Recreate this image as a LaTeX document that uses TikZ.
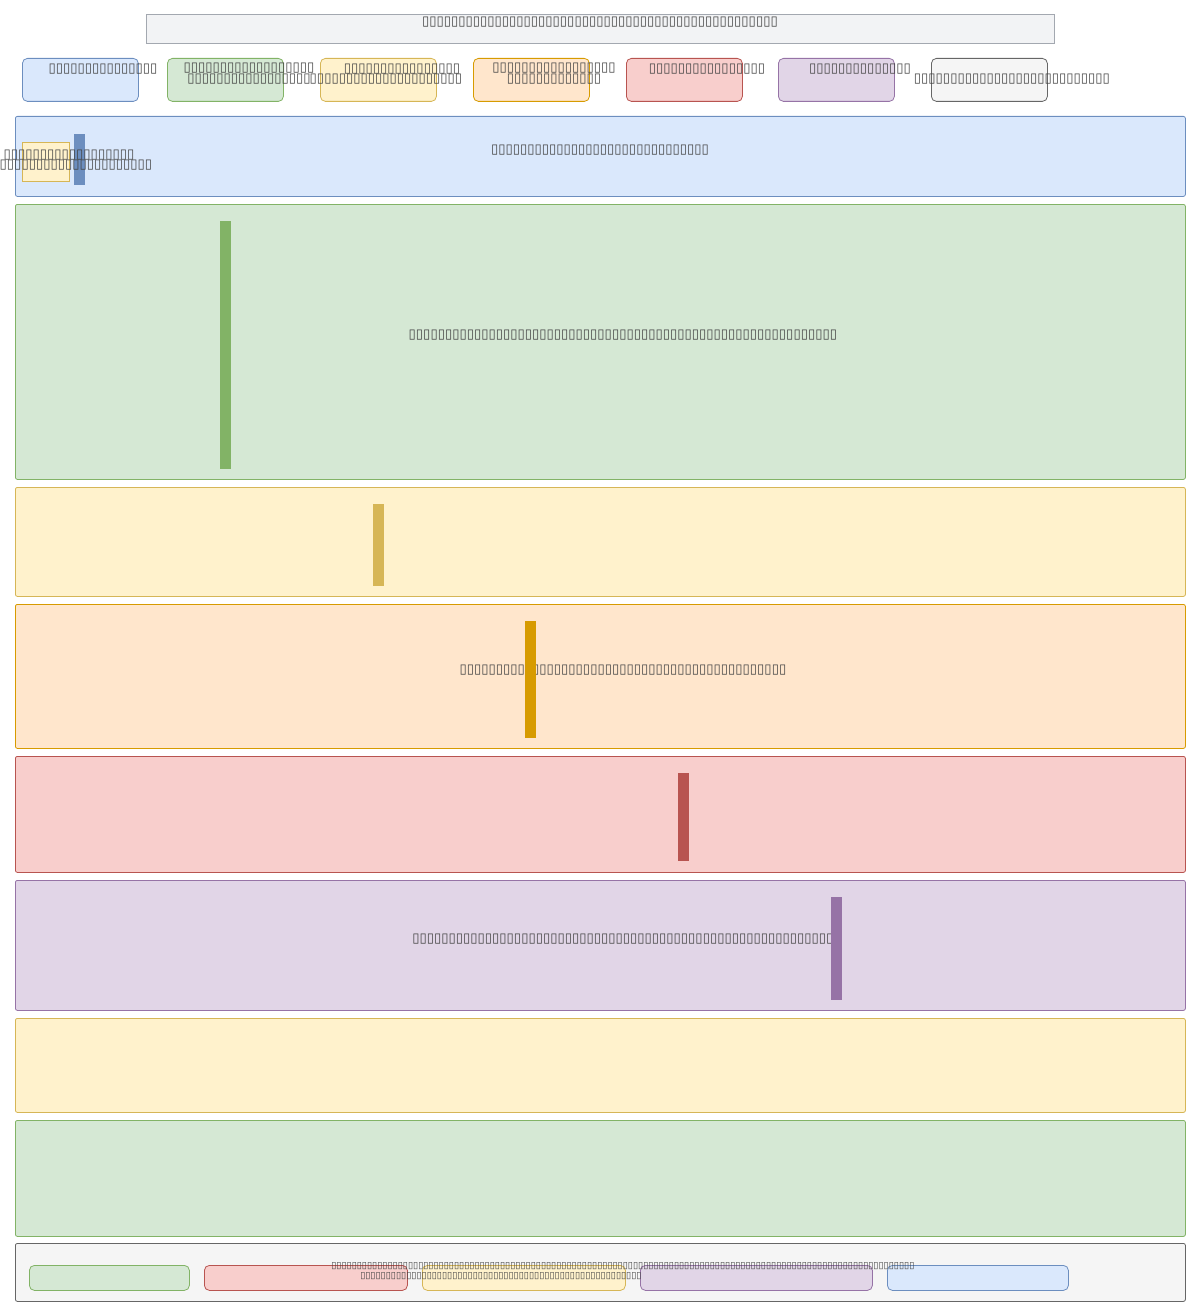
\documentclass[tikz,border=0pt]{standalone}
\usepackage{fontspec}
\usepackage{tikz}
\usetikzlibrary{positioning}
\newfontfamily\tofufont{DejaVu Sans}
\definecolor{bluef}{HTML}{DAE8FC}\definecolor{bluel}{HTML}{6C8EBF}
\definecolor{greenf}{HTML}{D5E8D4}\definecolor{greenl}{HTML}{82B366}
\definecolor{yellowf}{HTML}{FFF2CC}\definecolor{yellowl}{HTML}{D6B656}
\definecolor{orangef}{HTML}{FFE6CC}\definecolor{orangel}{HTML}{D79B00}
\definecolor{redf}{HTML}{F8CECC}\definecolor{redl}{HTML}{B85450}
\definecolor{purplef}{HTML}{E1D5E7}\definecolor{purplel}{HTML}{9673A6}
\definecolor{grayf}{HTML}{F5F5F5}\definecolor{grayl}{HTML}{666666}
\definecolor{titlef}{HTML}{F2F3F5}\definecolor{titlel}{HTML}{A3A8B0}
\definecolor{txtgray}{HTML}{444444}
\newcommand\tofu[1]{\foreach\k in {1,...,#1}{▯}}

\begin{document}
\begin{tikzpicture}[x=1pt,y=-1pt,
	lane/.style={draw, rounded corners=2pt, line width=.8pt, inner sep=0pt, anchor=north west, minimum width=1170pt},
	key/.style={draw, rounded corners=5pt, line width=.8pt, inner sep=0pt, anchor=north west, minimum width=116pt, minimum height=43pt},
	bar/.style={inner sep=0pt, anchor=north west, minimum width=11pt},
	txt/.style={font=\tofufont\fontsize{13.2}{10}\selectfont, text=txtgray, inner sep=0pt, align=center},
	small/.style={font=\tofufont\fontsize{9.3}{10}\selectfont, text=txtgray, inner sep=0pt, align=center}]
	\useasboundingbox (0,0) rectangle (1200,1316);
	% title
	\node[draw=titlel, fill=titlef, line width=.8pt, inner sep=0pt, anchor=north west,
		minimum width=908pt, minimum height=29pt] (title) at (146,14) {};
	\node[txt] (titletxt) at (600,22) {\tofu{49}};
	% legend
	\node[key, fill=bluef, draw=bluel] (key1) at (22,58) {};
	\node[key, fill=greenf, draw=greenl] (key2) at (167,58) {};
	\node[key, fill=yellowf, draw=yellowl] (key3) at (320,58) {};
	\node[key, fill=orangef, draw=orangel] (key4) at (473,58) {};
	\node[key, fill=redf, draw=redl] (key5) at (626,58) {};
	\node[key, fill=purplef, draw=purplel] (key6) at (778,58) {};
	\node[key, fill=grayf, draw=grayl] (key7) at (931,58) {};
	\node[txt] (key1txt) at (103,69) {\tofu{15}};
	\node[txt] (key2txt) at (249,74) {\tofu{18}\\\tofu{17}};
	\node[txt] (key3txt) at (402,69) {\tofu{16}};
	\node[txt] (key3txtb) at (386,79) {\tofu{21}};
	\node[txt] (key4txt) at (554,74) {\tofu{17}\\\tofu{13}};
	\node[txt] (key5txt) at (707,69) {\tofu{16}};
	\node[txt] (key6txt) at (860,69) {\tofu{14}};
	\node[txt] (key7txt) at (1012,79) {\tofu{27}};
	% lanes
	\node[lane, fill=bluef, draw=bluel, minimum height=80pt] (lane1) at (15,116) {};
	\node[lane, fill=greenf, draw=greenl, minimum height=275pt] (lane2) at (15,204) {};
	\node[lane, fill=yellowf, draw=yellowl, minimum height=109pt] (lane3) at (15,487) {};
	\node[lane, fill=orangef, draw=orangel, minimum height=144pt] (lane4) at (15,604) {};
	\node[lane, fill=redf, draw=redl, minimum height=116pt] (lane5) at (15,756) {};
	\node[lane, fill=purplef, draw=purplel, minimum height=130pt] (lane6) at (15,880) {};
	\node[lane, fill=yellowf, draw=yellowl, minimum height=94pt] (lane7) at (15,1018) {};
	\node[lane, fill=greenf, draw=greenl, minimum height=116pt] (lane8) at (15,1120) {};
	% lane contents
	\node[txt] (lane1txt) at (600,150) {\tofu{30}};
	\node[draw=yellowl, fill=yellowf, line width=.8pt, inner sep=0pt, anchor=north west,
		minimum width=47pt, minimum height=39pt] (note) at (22,142) {};
	\node[bar, fill=bluel, minimum height=51pt] (bar1) at (74,134) {};
	\node[txt] (notetxt) at (69,155) {\tofu{18}};
	\node[txt] (notetxtb) at (76,165) {\tofu{21}};
	\node[txt] (lane2txt) at (623,335) {\tofu{59}};
	\node[bar, fill=greenl, minimum height=248pt] (bar2) at (220,221) {};
	\node[bar, fill=yellowl, minimum height=82pt] (bar3) at (373,504) {};
	\node[txt] (lane4txt) at (623,670) {\tofu{45}};
	\node[bar, fill=orangel, minimum height=117pt] (bar4) at (525,621) {};
	\node[bar, fill=redl, minimum height=88pt] (bar5) at (678,773) {};
	\node[txt] (lane6txt) at (623,939) {\tofu{58}};
	\node[bar, fill=purplel, minimum height=103pt] (bar6) at (831,897) {};
	% footer
	\node[lane, fill=grayf, draw=grayl, minimum height=58pt] (foot) at (15,1243) {};
	\node[key, fill=greenf, draw=greenl, minimum width=160pt, minimum height=25pt] (foot1) at (29,1265) {};
	\node[key, fill=redf, draw=redl, minimum width=203pt, minimum height=25pt] (foot2) at (204,1265) {};
	\node[key, fill=yellowf, draw=yellowl, minimum width=203pt, minimum height=25pt] (foot3) at (422,1265) {};
	\node[key, fill=purplef, draw=purplel, minimum width=232pt, minimum height=25pt] (foot4) at (640,1265) {};
	\node[key, fill=bluef, draw=bluel, minimum width=181pt, minimum height=25pt] (foot5) at (887,1265) {};
	\node[small] (foottxt) at (623,1266) {\tofu{114}};
	\node[small] (foottxtb) at (501,1276) {\tofu{55}};
\end{tikzpicture}
\end{document}
